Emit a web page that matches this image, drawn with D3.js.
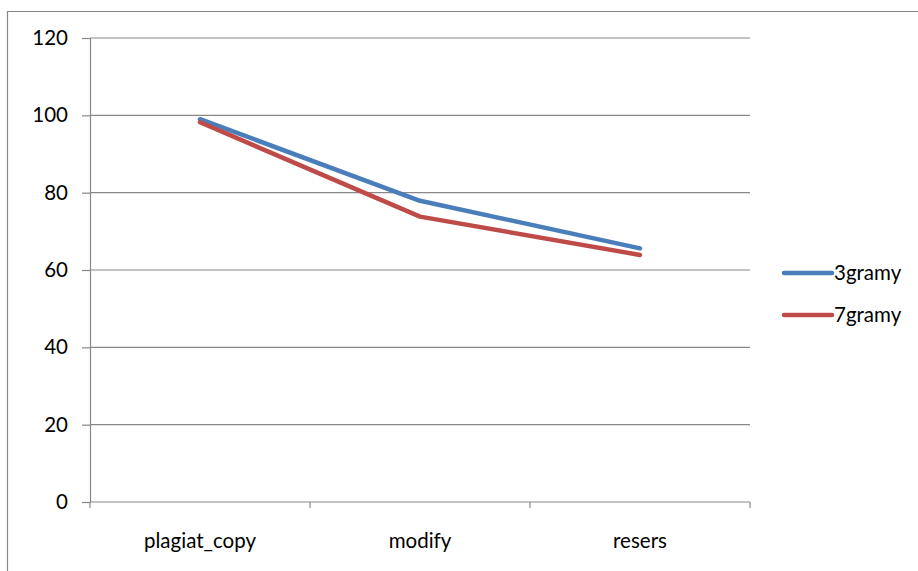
<!DOCTYPE html>
<html>
<head>
<meta charset="utf-8">
<script src="https://cdn.jsdelivr.net/npm/d3@7"></script>
<style>
  html, body { margin: 0; padding: 0; background: #fff; }
  svg { display: block; }
  text { font-family: Lato, "Open Sans", sans-serif; fill: #000; }
</style>
</head>
<body>
<svg id="chart" width="918" height="571"></svg>
<script>
const categories = ["plagiat_copy", "modify", "resers"];
const seriesNames = ["3gramy", "7gramy"];
const values3gramy = [99.0, 77.9, 65.6];
const values7gramy = [98.2, 73.8, 63.9];
const yTicks = [0, 20, 40, 60, 80, 100, 120];
const colors = ["#4a7ebb", "#be4b48"];

const series = [
  { name: seriesNames[0], values: values3gramy, color: colors[0] },
  { name: seriesNames[1], values: values7gramy, color: colors[1] }
];

const svg = d3.select("#chart");
const W = 918, H = 571;
const plot = { left: 90, right: 750, top: 38, bottom: 502 };
const FS = 20.5;

// outer frame
svg.append("path")
  .attr("d", `M7.5,${H} V11.5 H${W}`)
  .attr("fill", "none").attr("stroke", "#888").attr("stroke-width", 1.2);

const x = d3.scaleBand().domain(categories).range([plot.left, plot.right]);
const y = d3.scaleLinear().domain([0, 120]).range([plot.bottom, plot.top]);

// gridlines
svg.append("g").selectAll("line").data(yTicks.filter(d => d > 0)).join("line")
  .attr("x1", plot.left).attr("x2", plot.right)
  .attr("y1", d => y(d)).attr("y2", d => y(d))
  .attr("stroke", "#888").attr("stroke-width", 1.2);

// y axis
const yAxis = svg.append("g").attr("transform", `translate(${plot.left},0)`)
  .call(d3.axisLeft(y).tickValues(yTicks).tickSize(8).tickPadding(14).tickFormat(d3.format("d")));
yAxis.select(".domain").attr("stroke", "#888").attr("stroke-width", 1.2);
yAxis.selectAll(".tick line").attr("stroke", "#888").attr("stroke-width", 1.2);
yAxis.selectAll("text").attr("font-size", FS).attr("font-family", "Lato, sans-serif").attr("fill", "#000");

// x axis
const xTickPos = categories.map(c => x(c)).concat([plot.right]);
const xg = svg.append("g");
xg.append("line").attr("x1", plot.left).attr("x2", plot.right)
  .attr("y1", plot.bottom).attr("y2", plot.bottom)
  .attr("stroke", "#888").attr("stroke-width", 1.2);
xg.selectAll("line.tk").data(xTickPos).join("line").attr("class", "tk")
  .attr("x1", d => d).attr("x2", d => d)
  .attr("y1", plot.bottom).attr("y2", plot.bottom + 6)
  .attr("stroke", "#888").attr("stroke-width", 1.2);
xg.selectAll("text").data(categories).join("text")
  .attr("x", d => x(d) + x.bandwidth() / 2)
  .attr("y", 548)
  .attr("text-anchor", "middle")
  .attr("font-size", FS)
  .text(d => d);

// lines
const line = d3.line()
  .x((d, i) => x(categories[i]) + x.bandwidth() / 2)
  .y(d => y(d));

svg.append("g").selectAll("path").data(series).join("path")
  .attr("d", d => line(d.values))
  .attr("fill", "none")
  .attr("stroke", d => d.color)
  .attr("stroke-width", 4.5)
  .attr("stroke-linejoin", "round")
  .attr("stroke-linecap", "round");

// legend
const leg = svg.append("g").selectAll("g").data(series).join("g")
  .attr("transform", (d, i) => `translate(784,${273 + i * 42})`);
leg.append("line").attr("x1", 0).attr("x2", 48).attr("y1", 0).attr("y2", 0)
  .attr("stroke", d => d.color).attr("stroke-width", 4.5).attr("stroke-linecap", "round");
leg.append("text").attr("x", 50).attr("y", 7).attr("font-size", FS).text(d => d.name);
</script>
</body>
</html>
